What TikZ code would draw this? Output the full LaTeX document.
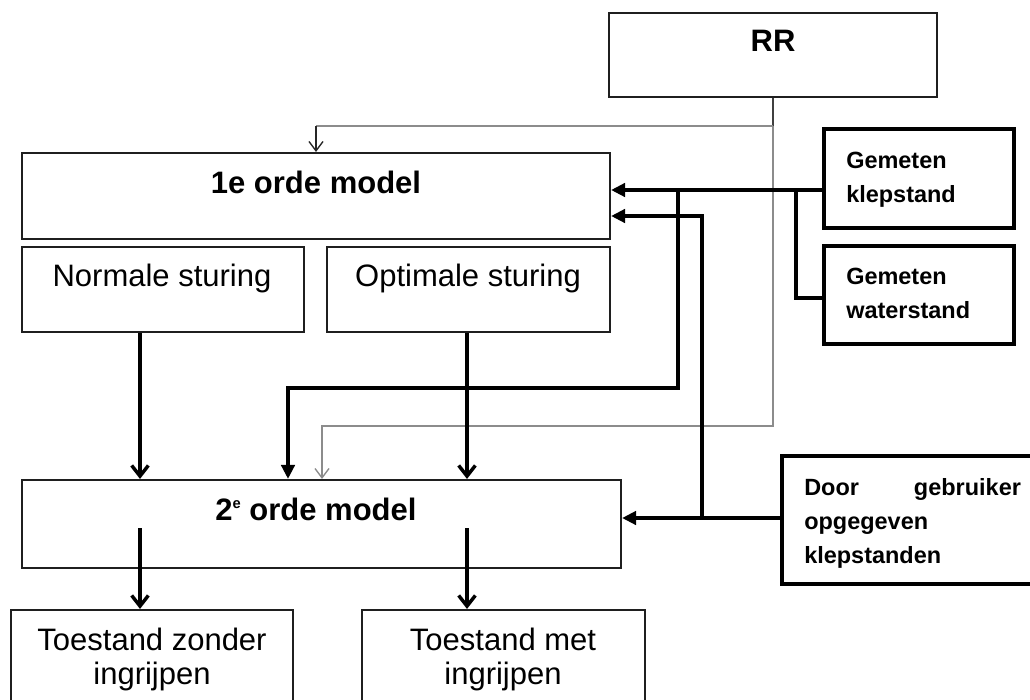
\documentclass[tikz,border=0pt]{standalone}
\usepackage{fontspec}
\setmainfont{Liberation Sans}
\usetikzlibrary{arrows.meta,fit}
\begin{document}
\begin{tikzpicture}[x=0.75pt,y=-0.75pt,
  modelbox/.style={draw=black!88, line width=1.6pt, inner sep=0pt},
  inbox/.style={draw=black, line width=2.6pt, inner sep=0pt},
  conn/.style={draw=black, line width=2.6pt},
  fed/.style={conn, -{Triangle[length=10.5pt,width=10pt]}},
  flow/.style={conn, -{Straight Barb[length=8pt,width=12.5pt]}},
  grayline/.style={draw=black!45, line width=2pt},
  darkline/.style={draw=black!75, line width=2pt},
  thinarrow/.style={draw=black!85, line width=1pt, -{Straight Barb[length=7pt,width=10.5pt]}},
  grayarrow/.style={grayline, -{Straight Barb[length=7pt,width=10.5pt,line width=1pt]}},
  mtext/.style={font=\fontsize{23.25pt}{25.5pt}\selectfont, inner sep=0pt},
  btext/.style={font=\bfseries\fontsize{23.25pt}{25.5pt}\selectfont, inner sep=0pt},
  stext/.style={font=\bfseries\fontsize{17.6pt}{25.5pt}\selectfont, inner sep=0pt}
]
\clip (0,0) rectangle (1030,699);
\fill[white] (0,0) rectangle (1030,699);

% boxes
\node[modelbox, fit={(609,13) (937,97)}] (rr) {};
\node[modelbox, fit={(22,153) (610,239)}] (m1) {};
\node[modelbox, fit={(22,247) (304,332)}] (ns) {};
\node[modelbox, fit={(327,247) (610,332)}] (os) {};
\node[modelbox, fit={(22,480) (621,568)}] (m2) {};
\node[modelbox, fit={(11,610) (293,730)}] (tz) {};
\node[modelbox, fit={(362,610) (645,730)}] (tm) {};
\node[inbox, fit={(824,129) (1014,228)}] (kl) {};
\node[inbox, fit={(824,246) (1014,344)}] (ws) {};
\node[inbox, fit={(782,456) (1050,584)}] (door) {};

% texts
\node[btext, anchor=base] (rrt) at (773,52) {RR};
\node[btext, anchor=base] (m1t) at (316,193) {1e orde model};
\node[mtext, anchor=base] (nst) at (162,286) {Normale sturing};
\node[mtext, anchor=base] (ost) at (468,286) {Optimale sturing};
\node[btext, anchor=base] (m2t) at (316,520) {2\raisebox{8.5pt}{\fontsize{11pt}{11pt}\selectfont e} orde model};
\node[mtext, anchor=base] (tzt) at (152,650) {\begin{tabular}[t]{@{}c@{}}Toestand zonder\\ingrijpen\end{tabular}};
\node[mtext, anchor=base] (tmt) at (503,650) {\begin{tabular}[t]{@{}c@{}}Toestand met\\ingrijpen\end{tabular}};
\node[stext, anchor=base west] (klt) at (846,168) {\begin{tabular}[t]{@{}l@{}}Gemeten\\klepstand\end{tabular}};
\node[stext, anchor=base west] (wst) at (846,284) {\begin{tabular}[t]{@{}l@{}}Gemeten\\waterstand\end{tabular}};
\node[stext, anchor=base west] (doort) at (804,495) {\begin{tabular}[t]{@{}l@{}}\hbox to 162.5pt{Door\hfill gebruiker}\\opgegeven\\klepstanden\end{tabular}};

% helper coordinates
\coordinate (ya) at (0,190);
\coordinate (yb) at (0,216);
\coordinate (yc) at (0,298);
\coordinate (yd) at (0,388);
\coordinate (ye) at (0,518);
\coordinate (yi) at (0,528);
\coordinate (yg1) at (0,126);
\coordinate (yg2) at (0,426);
\coordinate (xa) at (796,0);
\coordinate (xb) at (678,0);
\coordinate (xc) at (702,0);
\coordinate (xf) at (288,0);
\coordinate (xn) at (140,0);
\coordinate (xo) at (467,0);
\coordinate (xg1) at (316,0);
\coordinate (xg2) at (322,0);

% gray RR connectors
\draw[darkline] (rr.south) -- (rr.south |- yg1);
\draw[grayline] (rr.south |- yg1) -- (xg1 |- yg1);
\draw[thinarrow] (xg1 |- yg1) -- (xg1 |- m1.north);
\draw[grayarrow] (rr.south |- yg1) -- (rr.south |- yg2) -- (xg2 |- yg2) -- (xg2 |- m2.north);

% measured inputs
\draw[fed] (kl.west |- ya) -- (m1.east |- ya);
\draw[conn] (ws.west |- yc) -- (xa |- yc) -- (xa |- ya);
\draw[fed] (xb |- ya) -- (xb |- yd) -- (xf |- yd) -- (xf |- m2.north);

% user input
\draw[fed] (door.west |- ye) -- (m2.east |- ye);
\draw[fed] (xc |- ye) -- (xc |- yb) -- (m1.east |- yb);

% main flow
\draw[flow] (xn |- ns.south) -- (xn |- m2.north);
\draw[flow] (xo |- os.south) -- (xo |- m2.north);
\draw[flow] (xn |- yi) -- (xn |- tz.north);
\draw[flow] (xo |- yi) -- (xo |- tm.north);
\end{tikzpicture}
\end{document}
